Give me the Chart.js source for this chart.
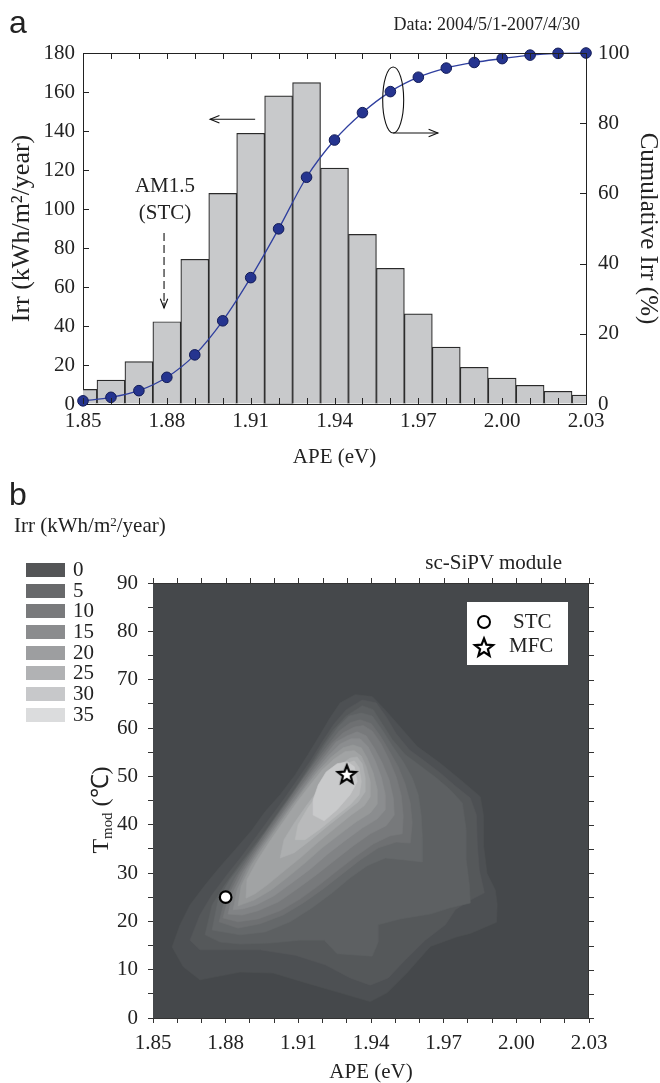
<!DOCTYPE html>
<html><head><meta charset="utf-8">
<script src="https://cdn.jsdelivr.net/npm/chart.js@4/dist/chart.umd.min.js"></script>
<style>
html,body{margin:0;padding:0;background:#fff;overflow:hidden;width:660px;height:1083px;position:relative;font-family:'Liberation Serif','Times New Roman',serif;color:#222}
canvas{position:absolute;left:0}
.t{position:absolute;white-space:nowrap;line-height:1}
.sw{position:absolute;left:26px;width:39px;height:14px}
.lab{position:absolute;left:73px;font-size:21px;line-height:1;white-space:nowrap}
sup{font-size:0.62em;vertical-align:0.5em;line-height:0}
sub{font-size:0.62em;vertical-align:-0.3em;line-height:0}
</style></head><body>
<canvas id="c1" width="660" height="470" style="top:0"></canvas>
<canvas id="c2" width="660" height="543" style="top:540px"></canvas>

<div class="t" style="left:9px;top:4px;font:32px 'Liberation Sans',Arial,sans-serif">a</div>
<div class="t" style="right:80px;top:15px;font-size:18px">Data: 2004/5/1-2007/4/30</div>
<div class="t" style="left:120px;top:175px;width:90px;text-align:center;font-size:21px">AM1.5</div>
<div class="t" style="left:120px;top:202px;width:90px;text-align:center;font-size:21px">(STC)</div>

<div class="t" style="left:9px;top:476px;font:32px 'Liberation Sans',Arial,sans-serif">b</div>
<div class="t" style="left:14px;top:515px;font-size:21px">Irr (kWh/m<sup>2</sup>/year)</div>
<div id="legend2"></div>
<div class="t" style="right:98px;top:552px;font-size:21px">sc-SiPV module</div>
<div style="position:absolute;left:467px;top:602px;width:101px;height:63px;background:#fff"></div>
<div style="position:absolute;left:477px;top:615px;width:10px;height:10px;border:2px solid #000;border-radius:50%;background:#fff"></div>
<canvas id="starLeg" width="24" height="24" style="left:472px;top:635px"></canvas>
<div class="t" style="left:513px;top:611px;font-size:21px">STC</div>
<div class="t" style="left:509px;top:635px;font-size:21px">MFC</div>
<div class="t" style="left:0;top:795px;width:200px;height:30px;line-height:30px;text-align:center;font-size:24px;transform:rotate(-90deg)">T<sub>mod</sub> (℃)</div>

<script>
// ---------- Panel a data ----------
const apeBins = [1.85,1.86,1.87,1.88,1.89,1.90,1.91,1.92,1.93,1.94,1.95,1.96,1.97,1.98,1.99,2.00,2.01,2.02,2.03];
const irrHist = [7.5,12.3,21.7,42.2,74.2,108,138.8,158,164.8,121,87,69.6,46.2,29.2,18.8,13.3,9.6,6.5,4.6];
const cumIrr  = [0.9,1.9,3.8,7.6,14,23.7,36,49.9,64.6,75.2,83,89,93.1,95.7,97.3,98.4,99.4,99.9,100];
const apeTickLabels = ['1.85','1.88','1.91','1.94','1.97','2.00','2.03'];
const irrTicks = [0,20,40,60,80,100,120,140,160,180];
const cumTicks = [0,20,40,60,80,100];

// ---------- Panel b data (contour rings: [APE, Tmod]) ----------
const tmodTicks = [0,10,20,30,40,50,60,70,80,90];
const legendLevels = [0,5,10,15,20,25,30,35];
const stcPoint = [1.88,25];
const mfcPoint = [1.93,50.5];
const level01 = [[1.8579,14.7],[1.8612,19.3],[1.8653,23.4],[1.8715,27.5],[1.8777,31.3],[1.8839,34.8],[1.8909,38.9],[1.8963,42.7],[1.9025,46.2],[1.9087,50.3],[1.9140,54.5],[1.9190,58.6],[1.9231,62.1],[1.9273,65.2],[1.9335,66.9],[1.9405,66.5],[1.9450,64.2],[1.9507,61.0],[1.9590,56.2],[1.9686,52.7],[1.9769,49.3],[1.9851,45.8],[1.9864,42.0],[1.9865,35.5],[1.9879,29.9],[1.9913,26.5],[1.9921,23.5],[1.9918,19.8],[1.9810,17.5],[1.9755,16.8],[1.9645,14.8],[1.9548,9.3],[1.9466,5.2],[1.9397,3.4],[1.9273,5.2],[1.9136,7.2],[1.8996,9.3],[1.8860,9.5],[1.8694,7.9],[1.8625,10.6]];
const level02 = [[1.8653,16.1],[1.8694,21.3],[1.8744,25.5],[1.8802,29.4],[1.8864,33.3],[1.8926,37.5],[1.8983,41.4],[1.9041,45.3],[1.9099,49.5],[1.9153,53.4],[1.9202,57.4],[1.9248,60.9],[1.9298,63.8],[1.9364,65.8],[1.9421,65.2],[1.9463,62.3],[1.9504,58.8],[1.9558,55.5],[1.9620,53.2],[1.9686,50.7],[1.9748,48.0],[1.9810,45.5],[1.9835,42.0],[1.9839,35.8],[1.9847,30.6],[1.9868,25.9],[1.9810,24.4],[1.9748,22.4],[1.9707,19.3],[1.9624,16.1],[1.9541,12.0],[1.9471,8.3],[1.9397,6.8],[1.9314,8.3],[1.9211,11.0],[1.9087,13.0],[1.8942,14.1],[1.8798,14.1],[1.8694,14.1]];
const level03 = [[1.8715,17.2],[1.8744,23.4],[1.8793,27.3],[1.8851,31.3],[1.8913,35.4],[1.8975,39.5],[1.9033,43.7],[1.9091,47.8],[1.9145,52.0],[1.9194,55.9],[1.9244,59.6],[1.9298,62.5],[1.9364,64.6],[1.9409,63.8],[1.9446,60.9],[1.9488,57.6],[1.9541,54.5],[1.9603,52.2],[1.9669,49.7],[1.9727,47.2],[1.9777,44.5],[1.9793,38.9],[1.9793,32.7],[1.9806,27.5],[1.9810,23.8],[1.9727,22.8],[1.9645,21.5],[1.9521,20.5],[1.9430,19.3],[1.9430,15.7],[1.9405,12.8],[1.9260,13.3],[1.9207,16.1],[1.9107,16.1],[1.8983,15.5],[1.8860,15.3],[1.8777,15.7]];
const level04 = [[1.8744,18.2],[1.8769,24.4],[1.8818,28.6],[1.8876,32.5],[1.8938,36.6],[1.8996,40.8],[1.9054,44.9],[1.9112,49.1],[1.9165,53.0],[1.9215,56.9],[1.9264,60.2],[1.9310,62.5],[1.9360,63.1],[1.9405,62.5],[1.9446,59.6],[1.9488,56.3],[1.9533,53.0],[1.9570,49.7],[1.9595,46.2],[1.9607,42.0],[1.9612,37.3],[1.9612,32.3],[1.9541,32.7],[1.9459,33.1],[1.9384,31.5],[1.9314,29.0],[1.9240,25.9],[1.9157,22.8],[1.9066,19.9],[1.8963,17.8],[1.8860,17.2]];
const level05 = [[1.8773,19.9],[1.8798,24.8],[1.8839,29.0],[1.8893,33.1],[1.8950,37.3],[1.9008,41.4],[1.9066,45.5],[1.9120,49.5],[1.9174,53.2],[1.9223,56.5],[1.9269,59.4],[1.9314,61.1],[1.9355,61.7],[1.9401,60.9],[1.9438,58.4],[1.9475,55.3],[1.9512,52.0],[1.9541,48.4],[1.9562,44.5],[1.9570,40.4],[1.9562,36.2],[1.9504,36.4],[1.9430,35.2],[1.9355,32.7],[1.9281,29.8],[1.9202,26.7],[1.9120,23.8],[1.9037,21.3],[1.8942,19.5],[1.8851,18.6]];
const level06 = [[1.8789,20.7],[1.8814,25.5],[1.8855,29.6],[1.8909,33.7],[1.8967,37.9],[1.9025,42.0],[1.9083,46.2],[1.9136,49.9],[1.9190,53.6],[1.9240,56.9],[1.9285,59.0],[1.9331,60.2],[1.9368,60.5],[1.9405,59.4],[1.9442,56.7],[1.9475,53.4],[1.9504,49.9],[1.9525,46.0],[1.9533,41.8],[1.9529,38.1],[1.9479,37.7],[1.9409,36.0],[1.9339,33.5],[1.9264,30.6],[1.9186,27.5],[1.9107,24.6],[1.9025,22.2],[1.8934,20.5],[1.8851,19.9]];
const level07 = [[1.8810,21.5],[1.8831,26.1],[1.8872,30.2],[1.8926,34.4],[1.8983,38.5],[1.9041,42.7],[1.9099,46.8],[1.9153,50.5],[1.9207,54.0],[1.9256,57.1],[1.9302,58.4],[1.9343,59.2],[1.9380,58.4],[1.9413,55.9],[1.9446,52.8],[1.9475,49.3],[1.9492,45.5],[1.9496,42.0],[1.9463,39.8],[1.9397,38.1],[1.9326,35.6],[1.9252,32.7],[1.9174,29.6],[1.9095,26.7],[1.9017,24.0],[1.8934,22.2],[1.8868,21.3]];
const level08 = [[1.8831,22.4],[1.8847,26.5],[1.8888,30.8],[1.8942,35.0],[1.9000,39.1],[1.9058,43.3],[1.9116,47.2],[1.9169,50.9],[1.9223,54.2],[1.9273,56.7],[1.9318,57.8],[1.9355,57.8],[1.9388,56.1],[1.9417,53.2],[1.9442,49.9],[1.9459,46.2],[1.9459,43.1],[1.9426,41.2],[1.9364,39.3],[1.9298,36.9],[1.9223,34.0],[1.9149,30.8],[1.9074,28.0],[1.9000,25.3],[1.8926,23.4],[1.8872,22.6]];
const level09 = [[1.8851,23.2],[1.8864,27.3],[1.8905,31.5],[1.8959,35.6],[1.9017,39.8],[1.9074,43.9],[1.9128,47.6],[1.9182,51.1],[1.9236,54.0],[1.9285,55.9],[1.9326,56.5],[1.9360,55.9],[1.9384,53.8],[1.9409,50.7],[1.9426,47.2],[1.9426,44.3],[1.9397,42.4],[1.9339,40.6],[1.9273,38.1],[1.9198,35.2],[1.9128,32.1],[1.9058,29.2],[1.8988,26.5],[1.8917,24.4]];
const level10 = [[1.8884,24.8],[1.8888,28.6],[1.8930,32.5],[1.8983,36.6],[1.9041,40.8],[1.9095,44.7],[1.9149,48.2],[1.9198,51.3],[1.9248,53.6],[1.9293,55.1],[1.9331,55.3],[1.9360,54.2],[1.9380,52.0],[1.9397,48.9],[1.9397,45.8],[1.9372,43.9],[1.9318,42.0],[1.9252,39.3],[1.9182,36.4],[1.9112,33.3],[1.9041,30.4],[1.8971,27.5],[1.8921,25.7]];
const level11 = [[1.9025,33.1],[1.9041,36.9],[1.9087,40.6],[1.9136,44.1],[1.9186,47.4],[1.9236,50.3],[1.9281,52.6],[1.9314,53.8],[1.9343,54.0],[1.9364,52.6],[1.9376,49.7],[1.9376,46.8],[1.9347,44.7],[1.9289,42.4],[1.9223,39.8],[1.9153,36.9],[1.9083,34.2]];
const level12 = [[1.9087,36.9],[1.9099,40.0],[1.9140,43.5],[1.9186,46.6],[1.9231,49.3],[1.9273,51.6],[1.9306,52.8],[1.9331,53.2],[1.9351,51.8],[1.9360,48.9],[1.9351,46.2],[1.9314,44.1],[1.9256,41.8],[1.9190,39.1],[1.9128,36.9]];
const level13 = [[1.9161,45.1],[1.9182,48.2],[1.9215,50.9],[1.9260,52.6],[1.9302,53.0],[1.9331,52.0],[1.9343,48.9],[1.9314,46.2],[1.9260,43.1],[1.9207,40.8],[1.9161,42.0]];

// ---------- styles ----------
const FONT = "'Liberation Serif','Times New Roman',serif";
const contourRings = [level01,level02,level03,level04,level05,level06,level07,level08,level09,level10,level11,level12,level13];
const contourColors = ['#4d5053','#55585a','#5d6062','#65686a','#6e7072','#77797b','#818385','#8b8d8f','#969899','#a1a3a4','#adafb0','#b9babb','#c9cacb'];
const plotBg = '#45484b';
const legendColors = ['#545557','#68696b','#797a7c','#8b8c8e','#9d9ea0','#b1b2b4','#c7c8ca','#dbdcdd'];
const legendTops = [563,583.5,604,625,645.5,666,687,707.5];

Chart.defaults.font.family = FONT;
Chart.defaults.color = '#222';

function apeTickCb(v){ const s = Number(v).toFixed(2); return apeTickLabels.includes(s) ? s : ''; }

function line(ctx,x1,y1,x2,y2){ ctx.beginPath(); ctx.moveTo(x1,y1); ctx.lineTo(x2,y2); ctx.stroke(); }
function arrow(ctx,x1,y1,x2,y2,head){
  line(ctx,x1,y1,x2,y2);
  const a = Math.atan2(y2-y1,x2-x1), s = 0.38;
  ctx.setLineDash([]);
  ctx.beginPath();
  ctx.moveTo(x2-head*Math.cos(a-s), y2-head*Math.sin(a-s));
  ctx.lineTo(x2,y2);
  ctx.lineTo(x2-head*Math.cos(a+s), y2-head*Math.sin(a+s));
  ctx.stroke();
}

const deco1 = { id:'deco1', afterDraw(chart){
  const {ctx, chartArea:a, scales:{x,y,y2}} = chart;
  ctx.save();
  ctx.strokeStyle = '#222'; ctx.lineWidth = 1;
  line(ctx,a.left,a.top+0.5,a.right,a.top+0.5);
  x.ticks.forEach(t=>{ const p = Math.round(x.getPixelForValue(t.value))+0.5;
    line(ctx,p,a.top,p,a.top+6); line(ctx,p,a.bottom,p,a.bottom-6); });
  y.ticks.forEach(t=>{ if(t.value<=0||t.value>=180) return; const p = Math.round(y.getPixelForValue(t.value))+0.5; line(ctx,a.left,p,a.left+6,p); });
  y2.ticks.forEach(t=>{ if(t.value<=0||t.value>=100) return; const p = Math.round(y2.getPixelForValue(t.value))+0.5; line(ctx,a.right,p,a.right-6,p); });
  // annotations
  ctx.strokeStyle = '#111'; ctx.lineWidth = 1.1;
  arrow(ctx, x.getPixelForValue(1.9116), y.getPixelForValue(146), x.getPixelForValue(1.8955), y.getPixelForValue(146), 10);
  ctx.setLineDash([8,4]);
  const ax = x.getPixelForValue(1.879);
  line(ctx, ax, y.getPixelForValue(87.7), ax, y.getPixelForValue(51));
  ctx.setLineDash([]);
  arrow(ctx, ax, y.getPixelForValue(52), ax, y.getPixelForValue(49.2), 10);
  const ex = x.getPixelForValue(1.961), ey = y2.getPixelForValue(86.6);
  ctx.beginPath(); ctx.ellipse(ex, ey, 10.5, 33, 0, 0, Math.PI*2); ctx.stroke();
  arrow(ctx, ex, y2.getPixelForValue(77.2), x.getPixelForValue(1.977), y2.getPixelForValue(77.2), 10);
  ctx.restore();
}};

new Chart(document.getElementById('c1'), {
  type:'bar',
  data:{ datasets:[
    { type:'line', label:'Cumulative Irr (%)', data: apeBins.map((v,i)=>({x:v,y:cumIrr[i]})), yAxisID:'y2',
      borderColor:'#2f3f9f', borderWidth:1.3, pointRadius:5.3, pointBackgroundColor:'#25348f', pointBorderColor:'#121b57',
      pointBorderWidth:1, cubicInterpolationMode:'monotone', clip:false, order:0 },
    { type:'bar', label:'Irr', data: apeBins.map((v,i)=>({x:v,y:irrHist[i]})), yAxisID:'y',
      backgroundColor:'#c8c9cb', borderColor:'#2a2a2a', borderWidth:1.2, barPercentage:1, categoryPercentage:1, order:1 }
  ]},
  options:{
    responsive:false, animation:false, devicePixelRatio:1,
    layout:{padding:{top:53,left:0,right:0,bottom:0}},
    plugins:{legend:{display:false}, tooltip:{enabled:false}},
    scales:{
      x:{ type:'linear', min:1.85, max:2.03, offset:false,
          ticks:{stepSize:0.01, autoSkip:false, maxRotation:0, padding:5, font:{size:21}, callback:apeTickCb},
          grid:{drawOnChartArea:false, drawTicks:false, offset:false}, border:{display:true,color:'#222',width:1},
          title:{display:true, text:'APE (eV)', font:{size:21,lineHeight:1.2}, padding:{top:0,bottom:0}},
          afterFit(s){ s.height = 66; } },
      y:{ position:'left', min:0, max:180,
          ticks:{stepSize:20, padding:8, font:{size:21}, callback:v=>irrTicks.includes(v)?String(v):''},
          grid:{drawOnChartArea:false, drawTicks:false}, border:{display:true,color:'#222',width:1},
          title:{display:true, text:'Irr (kWh/m²/year)', font:{size:26,lineHeight:1}, padding:{top:9,bottom:0}},
          afterFit(s){ s.width = 83; } },
      y2:{ position:'right', min:0, max:100,
          ticks:{stepSize:20, padding:12, font:{size:21}, callback:v=>cumTicks.includes(v)?String(v):''},
          grid:{drawOnChartArea:false, drawTicks:false}, border:{display:true,color:'#222',width:1},
          title:{display:true, text:'Cumulative Irr (%)', font:{size:25,lineHeight:1}, padding:{top:0,bottom:0}},
          afterFit(s){ s.width = 74; } }
    }
  },
  plugins:[deco1]
});

// ---------- Panel b ----------
function drawStar(c, size, rOut, rIn, lw){
  const g = c.getContext('2d');
  g.translate(size/2, size/2+1);
  g.beginPath();
  for(let i=0;i<10;i++){ const r = i%2 ? rIn : rOut; const an = -Math.PI/2 + i*Math.PI/5; g.lineTo(r*Math.cos(an), r*Math.sin(an)); }
  g.closePath(); g.fillStyle='#fff'; g.fill(); g.lineWidth=lw; g.strokeStyle='#000'; g.lineJoin='miter'; g.stroke();
}
const starImg = document.createElement('canvas'); starImg.width = starImg.height = 24;
drawStar(starImg, 24, 9.5, 4.1, 2.2);
drawStar(document.getElementById('starLeg'), 24, 9.5, 4.1, 2.2);

const contourPlugin = { id:'contour', beforeDatasetsDraw(chart){
  const {ctx, chartArea:a} = chart;
  ctx.save();
  ctx.beginPath(); ctx.rect(a.left, a.top, a.right-a.left, a.bottom-a.top); ctx.clip();
  ctx.fillStyle = plotBg; ctx.fillRect(a.left, a.top, a.right-a.left, a.bottom-a.top);
  chart.data.datasets.forEach((ds,i)=>{
    if(!ds.contourColor) return;
    const pts = chart.getDatasetMeta(i).data;
    ctx.beginPath();
    pts.forEach((p,j)=> j ? ctx.lineTo(p.x,p.y) : ctx.moveTo(p.x,p.y));
    ctx.closePath();
    ctx.fillStyle = ds.contourColor; ctx.fill();
    ctx.strokeStyle = ds.contourColor; ctx.lineWidth = 0.6; ctx.stroke();
  });
  ctx.restore();
}, afterDraw(chart){
  const {ctx, chartArea:a, scales:{x,y}} = chart;
  ctx.save(); ctx.strokeStyle = '#333'; ctx.lineWidth = 1;
  line(ctx, a.left, a.top+0.5, a.right, a.top+0.5);
  line(ctx, a.right-0.5, a.top, a.right-0.5, a.bottom);
  x.ticks.forEach(t=>{ const p = Math.round(x.getPixelForValue(t.value))+0.5; line(ctx,p,a.top,p,a.top-5); });
  y.ticks.forEach(t=>{ const p = Math.round(y.getPixelForValue(t.value))+0.5; line(ctx,a.right,p,a.right+5,p); });
  ctx.restore();
}};

const ds2 = contourRings.map((ring,i)=>({
  label:'level '+(i+1), data: ring.map(p=>({x:p[0], y:p[1]})), contourColor: contourColors[i],
  showLine:false, pointRadius:0, pointHoverRadius:0, order: 50-i
}));
ds2.push({ label:'STC', data:[{x:stcPoint[0], y:stcPoint[1]}], pointRadius:5.8, pointBackgroundColor:'#fff',
  pointBorderColor:'#000', pointBorderWidth:2.2, showLine:false, order:0 });
ds2.push({ label:'MFC', data:[{x:mfcPoint[0], y:mfcPoint[1]}], pointStyle: starImg, pointRadius:12, showLine:false, order:0 });

new Chart(document.getElementById('c2'), {
  type:'scatter',
  data:{ datasets: ds2 },
  options:{
    responsive:false, animation:false, devicePixelRatio:1,
    layout:{padding:{top:43,left:0,right:71,bottom:0}},
    plugins:{legend:{display:false}, tooltip:{enabled:false}},
    scales:{
      x:{ type:'linear', min:1.85, max:2.03,
          ticks:{stepSize:0.01, autoSkip:false, maxRotation:0, padding:8, font:{size:21}, callback:apeTickCb},
          grid:{drawOnChartArea:false, drawTicks:true, tickLength:5, color:'#333'}, border:{display:true,color:'#333',width:1},
          title:{display:true, text:'APE (eV)', font:{size:21,lineHeight:1}, padding:{top:0,bottom:0}},
          afterFit(s){ s.height = 65; } },
      y:{ type:'linear', min:0, max:90,
          ticks:{stepSize:5, autoSkip:false, padding:10, font:{size:21}, callback:v=>tmodTicks.includes(v)?String(v):''},
          grid:{drawOnChartArea:false, drawTicks:true, tickLength:5, color:'#333'}, border:{display:true,color:'#333',width:1},
          afterFit(s){ s.width = 153; } }
    }
  },
  plugins:[contourPlugin]
});

// contour legend
const leg = document.getElementById('legend2');
legendLevels.forEach((lv,i)=>{
  const sw = document.createElement('div'); sw.className='sw'; sw.style.top = legendTops[i]+'px'; sw.style.background = legendColors[i];
  const lb = document.createElement('div'); lb.className='lab'; lb.style.top = (legendTops[i]-3.6)+'px'; lb.textContent = String(lv);
  leg.appendChild(sw); leg.appendChild(lb);
});
</script>
</body></html>
